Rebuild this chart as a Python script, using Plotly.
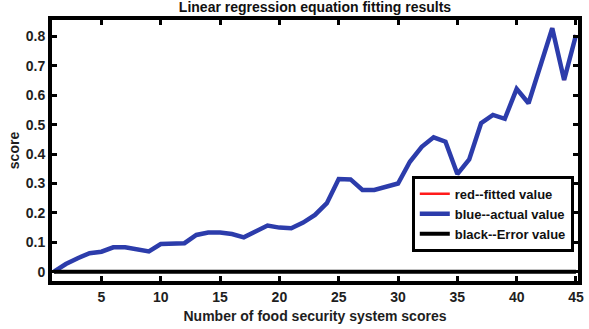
import plotly.graph_objects as go

# Sample index (number of food security system scores)
x_scores = list(range(1, 46))

# Actual score values
actual_value = [0.000, 0.026, 0.046, 0.063, 0.068, 0.083, 0.083, 0.076, 0.069, 0.094,
                0.097, 0.097, 0.125, 0.133, 0.133, 0.128, 0.117, 0.136, 0.157, 0.150,
                0.148, 0.167, 0.193, 0.233, 0.315, 0.314, 0.278, 0.278, 0.289, 0.300,
                0.374, 0.425, 0.457, 0.442, 0.332, 0.382, 0.505, 0.533, 0.520, 0.622,
                0.573, 0.700, 0.828, 0.652, 0.805]

# Fitted values from the linear regression equation
fitted_value = [0.000, 0.026, 0.046, 0.063, 0.068, 0.083, 0.083, 0.076, 0.069, 0.094,
                0.097, 0.097, 0.125, 0.133, 0.133, 0.128, 0.117, 0.136, 0.157, 0.150,
                0.148, 0.167, 0.193, 0.233, 0.315, 0.314, 0.278, 0.278, 0.289, 0.300,
                0.374, 0.425, 0.457, 0.442, 0.332, 0.382, 0.505, 0.533, 0.520, 0.622,
                0.573, 0.700, 0.828, 0.652, 0.805]

# Error between fitted and actual values
error_value = [f - a for f, a in zip(fitted_value, actual_value)]

x_ticks = [5, 10, 15, 20, 25, 30, 35, 40, 45]
y_ticks = [0, 0.1, 0.2, 0.3, 0.4, 0.5, 0.6, 0.7, 0.8]
y_tick_text = ["0", "0.1", "0.2", "0.3", "0.4", "0.5", "0.6", "0.7", "0.8"]

FONT = "Liberation Sans, Arial, Helvetica, sans-serif"
TEXT = "#1e1e1e"

fig = go.Figure()
# fitted line sits underneath the actual-value line
fig.add_trace(go.Scatter(x=x_scores, y=fitted_value, mode="lines",
                         name="red--fitted value",
                         line=dict(color="#ff1a1a", width=2.5)))
fig.add_trace(go.Scatter(x=x_scores, y=actual_value, mode="lines",
                         name="blue--actual value",
                         line=dict(color="#2c3cab", width=4.5)))
fig.add_trace(go.Scatter(x=x_scores, y=error_value, mode="lines",
                         name="black--Error value",
                         line=dict(color="#000000", width=4)))

axis_common = dict(
    showline=True, linecolor="black", linewidth=4, mirror="ticks",
    ticks="inside", ticklen=5, tickwidth=3, tickcolor="black",
    showgrid=False, zeroline=False,
    tickfont=dict(family=FONT, size=14, color=TEXT, weight="bold"),
)

fig.update_layout(
    width=589, height=329,
    margin=dict(l=52, r=5, t=20, b=48),
    paper_bgcolor="white", plot_bgcolor="white",
    font=dict(family=FONT, color=TEXT, weight="bold"),
    title=dict(text="Linear regression equation fitting results",
               x=0.5, xref="paper", xanchor="center",
               y=0.978, yref="container", yanchor="middle",
               font=dict(family=FONT, size=14, color="#111111", weight="bold")),
    xaxis=dict(range=[0.833, 45.17], tickvals=x_ticks,
               title=dict(text="Number of food security system scores",
                          font=dict(family=FONT, size=14, color=TEXT, weight="bold"),
                          standoff=8),
               **axis_common),
    yaxis=dict(range=[-0.0316, 0.856], tickvals=y_ticks, ticktext=y_tick_text,
               title=dict(text="score",
                          font=dict(family=FONT, size=14, color=TEXT, weight="bold"),
                          standoff=4),
               **axis_common),
    legend=dict(x=0.992, y=0.257, xanchor="right", yanchor="middle",
                bgcolor="white", bordercolor="black", borderwidth=3,
                font=dict(family=FONT, size=13, color="#111111", weight="bold"),
                tracegroupgap=0, itemwidth=30),
    showlegend=True,
)

fig.write_html("out.html")
